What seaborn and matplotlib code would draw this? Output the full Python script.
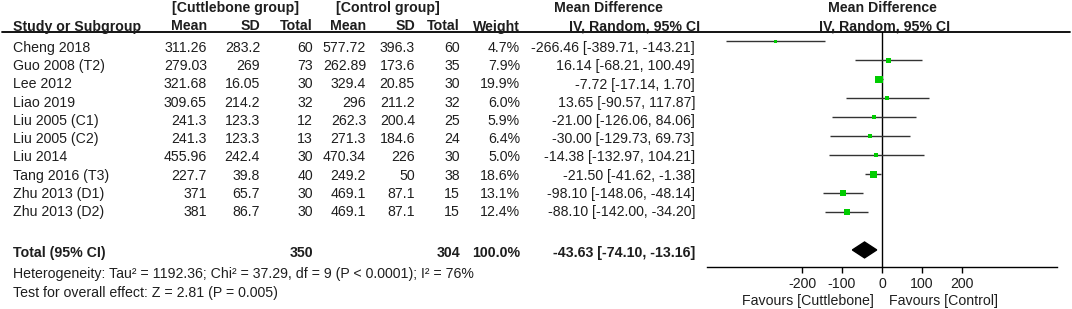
import numpy as np
import pandas as pd
import matplotlib.pyplot as plt
import seaborn as sns
from matplotlib.lines import Line2D
from matplotlib.transforms import blended_transform_factory

# study data
studies = ["Cheng 2018", "Guo 2008 (T2)", "Lee 2012", "Liao 2019", "Liu 2005 (C1)",
           "Liu 2005 (C2)", "Liu 2014", "Tang 2016 (T3)", "Zhu 2013 (D1)", "Zhu 2013 (D2)"]
cut_mean = [311.26, 279.03, 321.68, 309.65, 241.3, 241.3, 455.96, 227.7, 371, 381]
cut_sd = [283.2, 269, 16.05, 214.2, 123.3, 123.3, 242.4, 39.8, 65.7, 86.7]
cut_n = [60, 73, 30, 32, 12, 13, 30, 40, 30, 30]
ctl_mean = [577.72, 262.89, 329.4, 296, 262.3, 271.3, 470.34, 249.2, 469.1, 469.1]
ctl_sd = [396.3, 173.6, 20.85, 211.2, 200.4, 184.6, 226, 50, 87.1, 87.1]
ctl_n = [60, 35, 30, 32, 25, 24, 30, 38, 15, 15]
weight = [4.7, 7.9, 19.9, 6.0, 5.9, 6.4, 5.0, 18.6, 13.1, 12.4]
md = [-266.46, 16.14, -7.72, 13.65, -21.00, -30.00, -14.38, -21.50, -98.10, -88.10]
ci_lo = [-389.71, -68.21, -17.14, -90.57, -126.06, -129.73, -132.97, -41.62, -148.06, -142.00]
ci_hi = [-143.21, 100.49, 1.70, 117.87, 84.06, 69.73, 104.21, -1.38, -48.14, -34.20]

total_cut, total_ctl, total_w = 350, 304, 100.0
total_md, total_lo, total_hi = -43.63, -74.10, -13.16
tick_vals = [-200, -100, 0, 100, 200]
het_text = "Heterogeneity: Tau² = 1192.36; Chi² = 37.29, df = 9 (P < 0.0001); I² = 76%"
eff_text = "Test for overall effect: Z = 2.81 (P = 0.005)"

sns.set_theme(style="white")
plt.rcParams['font.family'] = ['Liberation Sans', 'DejaVu Sans']
FS = 10.2
INK = "#1e1e1e"

W, H = 1072, 309
fig = plt.figure(figsize=(W / 100, H / 100), dpi=100)
fig.patch.set_facecolor("white")


def fx(px):
    return px / W


def fy(py):
    return 1 - py / H


# forest panel axes
ax = fig.add_axes([fx(707), fy(267), fx(350), (267 - 32) / H])
n = len(studies)
total_row = n + 1
df = pd.DataFrame({"row": np.arange(n), "md": md, "lo": ci_lo, "hi": ci_hi, "w": weight})

ax.hlines(df["row"], df["lo"], df["hi"], color="#333333", lw=1.0, zorder=2)
# square area proportional to study weight
sns.scatterplot(data=df, x="md", y="row", size="w", sizes=(0, 28), size_norm=(0, 20),
                marker="s", color="#00cc00", linewidth=0, legend=False, ax=ax, zorder=3)
ax.fill([total_lo, total_md, total_hi, total_md],
        [total_row, total_row - 0.42, total_row, total_row + 0.42],
        color="black", zorder=3)
ax.axvline(0, color="black", lw=1.0, zorder=1)

ax.set_xlim(-437.5, 437.5)
ax.set_ylim(11.9, -0.5)
ax.set_xticks(tick_vals)
ax.set_xticklabels([str(t) for t in tick_vals], fontsize=FS)
ax.set_yticks([])
ax.set_xlabel("")
ax.set_ylabel("")
for s in ["top", "left", "right"]:
    ax.spines[s].set_visible(False)
ax.spines["bottom"].set_color("black")
ax.spines["bottom"].set_linewidth(1.0)
ax.tick_params(axis="x", direction="out", length=4, width=1, color="black", pad=3,
               bottom=True, labelcolor=INK)
ax.patch.set_alpha(0)

fav = blended_transform_factory(ax.transData, fig.transFigure)
ax.text(-20, fy(305), "Favours [Cuttlebone]", transform=fav,
        ha="right", va="baseline", fontsize=FS, color=INK)
ax.text(18, fy(305), "Favours [Control]", transform=fav,
        ha="left", va="baseline", fontsize=FS, color=INK)

# table text (baselines in pixels from the top)
txt = dict(fontsize=FS, color=INK, va="baseline")
bold = dict(txt, fontweight="bold")


def put(xpx, ypx, s, ha, **kw):
    fig.text(fx(xpx), fy(ypx), s, ha=ha, **kw)


def fmt(v):
    return f"{v:g}"


for i in range(n):
    yb = 52 + 18.25 * i
    put(13, yb, studies[i], "left", **txt)
    put(207, yb, fmt(cut_mean[i]), "right", **txt)
    put(260, yb, fmt(cut_sd[i]), "right", **txt)
    put(313, yb, str(cut_n[i]), "right", **txt)
    put(366, yb, fmt(ctl_mean[i]), "right", **txt)
    put(415, yb, fmt(ctl_sd[i]), "right", **txt)
    put(460, yb, str(ctl_n[i]), "right", **txt)
    put(520, yb, f"{weight[i]:.1f}%", "right", **txt)
    put(695, yb, f"{md[i]:.2f} [{ci_lo[i]:.2f}, {ci_hi[i]:.2f}]", "right", **txt)

yt = 257
put(13, yt, "Total (95% CI)", "left", **bold)
put(313, yt, str(total_cut), "right", **bold)
put(460, yt, str(total_ctl), "right", **bold)
put(520, yt, f"{total_w:.1f}%", "right", **bold)
put(695, yt, f"{total_md:.2f} [{total_lo:.2f}, {total_hi:.2f}]", "right", **bold)

put(13, 278, het_text, "left", **txt)
put(13, 296.5, eff_text, "left", **txt)

# headers
put(235, 12, "[Cuttlebone group]", "center", **bold)
put(388, 12, "[Control group]", "center", **bold)
put(608, 12, "Mean Difference", "center", **bold)
put(882, 12, "Mean Difference", "center", **bold)
hb = 30.5
put(13, hb, "Study or Subgroup", "left", **bold)
for xpx, lab in [(207, "Mean"), (260, "SD"), (313, "Total"), (366, "Mean"),
                 (415, "SD"), (460, "Total"), (520, "Weight"), (700, "IV, Random, 95% CI")]:
    put(xpx, hb, lab, "right", **bold)
put(885, hb, "IV, Random, 95% CI", "center", **bold)

fig.add_artist(Line2D([fx(2), fx(1070)], [fy(32), fy(32)], color="black", lw=1.3))

fig.savefig("out.png", dpi=100, facecolor="white")
